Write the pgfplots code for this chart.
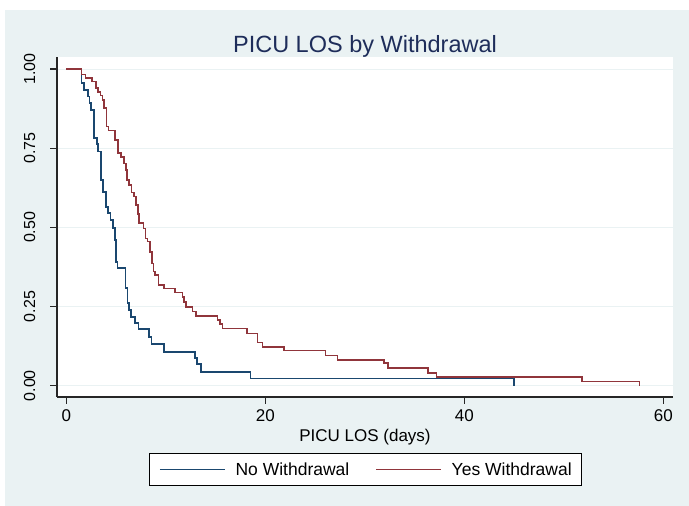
\documentclass[border=0pt]{standalone}
\usepackage{fontspec}
\setmainfont{Liberation Sans}
\usepackage{pgfplots}
\pgfplotsset{compat=1.18}
\definecolor{bgblue}{RGB}{234,242,243}
\definecolor{stblue}{RGB}{26,71,111}
\definecolor{stred}{RGB}{144,53,59}
\definecolor{titlecol}{RGB}{30,45,90}
\begin{document}
\begin{tikzpicture}[x=1pt,y=1pt]
\useasboundingbox (0,0) rectangle (689,506);
\fill[bgblue] (5,0) rectangle (689,496);
\begin{axis}[
  scale only axis, width=616pt, height=340pt,
  at={(57pt,109pt)}, anchor=south west,
  xmin=-0.93, xmax=60.97, ymin=-0.0357, ymax=1.038,
  axis background/.style={fill=white},
  axis x line*=bottom, axis y line*=left,
  axis line style={black!85, line width=1.2pt},
  tick align=outside, major tick length=7pt,
  tick style={black!85, line width=1.1pt},
  xtick={0,20,40,60}, ytick={0,0.25,0.5,0.75,1},
  minor tick num=0,
  ymajorgrids, grid style={bgblue, line width=1pt},
  font=\fontsize{17}{20}\selectfont,
  /pgf/number format/assume math mode=true,
  yticklabel style={/pgf/number format/fixed, /pgf/number format/fixed zerofill,
    /pgf/number format/precision=2, xshift=-15pt, rotate=90, anchor=base, inner sep=0pt,
    font=\fontsize{16}{19}\selectfont},
  xticklabel style={anchor=base, inner sep=0pt, yshift=-18pt},
  xlabel={PICU LOS (days)},
  xlabel style={at={(axis description cs:0.5,0)}, anchor=base, inner sep=0pt, yshift=-45pt},
  title={PICU LOS by Withdrawal},
  title style={at={(axis description cs:0.5,1)}, anchor=base, inner sep=0pt, yshift=-2pt,
    font=\fontsize{23.5}{28}\selectfont, text=titlecol},
  legend columns=2,
  legend style={at={(axis description cs:0.5008,-0.2132)}, anchor=center,
    draw=black, line width=1pt, fill=white, inner xsep=10pt, inner ysep=9pt,
    nodes={inner sep=0pt, font=\fontsize{17.5}{20}\selectfont},
    /tikz/every odd column/.append style={column sep=10pt},
    /tikz/every even column/.append style={column sep=26pt}},
  legend cell align=left,
  legend image code/.code={\draw[#1, line width=1.3pt] (0pt,0pt) -- (65pt,0pt);},
]
\addplot[const plot, stblue, line width=1.6pt] coordinates {
(0,1) (1.55,0.956) (1.81,0.934) (2.21,0.913) (2.35,0.893) (2.51,0.871)
(2.81,0.783) (3.06,0.763) (3.22,0.739) (3.49,0.650) (3.72,0.612)
(3.99,0.564) (4.22,0.545) (4.46,0.523) (4.72,0.498) (4.89,0.460)
(4.99,0.391) (5.13,0.372) (5.95,0.308) (6.17,0.261) (6.33,0.239)
(6.50,0.217) (6.91,0.198) (7.24,0.179) (8.31,0.154) (8.58,0.132)
(9.82,0.107) (12.93,0.088) (13.11,0.069) (13.54,0.043) (18.53,0.023)
(45.0,0)
};
\addlegendentry{No Withdrawal}
\addplot[const plot, stred, line width=1.6pt] coordinates {
(0,1) (1.55,0.983) (1.95,0.971) (2.61,0.960) (2.98,0.941) (3.22,0.928)
(3.46,0.916) (3.66,0.902) (3.82,0.876) (4.06,0.818) (4.26,0.806)
(4.89,0.776) (5.20,0.734) (5.50,0.723) (5.80,0.702) (6.00,0.681)
(6.13,0.650) (6.33,0.634) (6.57,0.610) (6.83,0.597) (7.00,0.571)
(7.21,0.542) (7.34,0.513) (7.76,0.497) (7.98,0.465) (8.18,0.455)
(8.41,0.423) (8.61,0.386) (8.76,0.361) (8.91,0.350) (9.27,0.318)
(9.82,0.307) (10.91,0.294) (11.70,0.281) (11.83,0.265) (12.03,0.249)
(12.70,0.234) (13.04,0.221) (15.20,0.207) (15.45,0.195) (15.72,0.181)
(18.18,0.165) (19.22,0.137) (19.74,0.123) (21.91,0.111) (26.07,0.095)
(27.26,0.081) (31.95,0.071) (32.33,0.056) (36.38,0.040) (37.21,0.027)
(51.80,0.013) (57.59,0)
};
\addlegendentry{Yes Withdrawal}
\end{axis}
\end{tikzpicture}
\end{document}
